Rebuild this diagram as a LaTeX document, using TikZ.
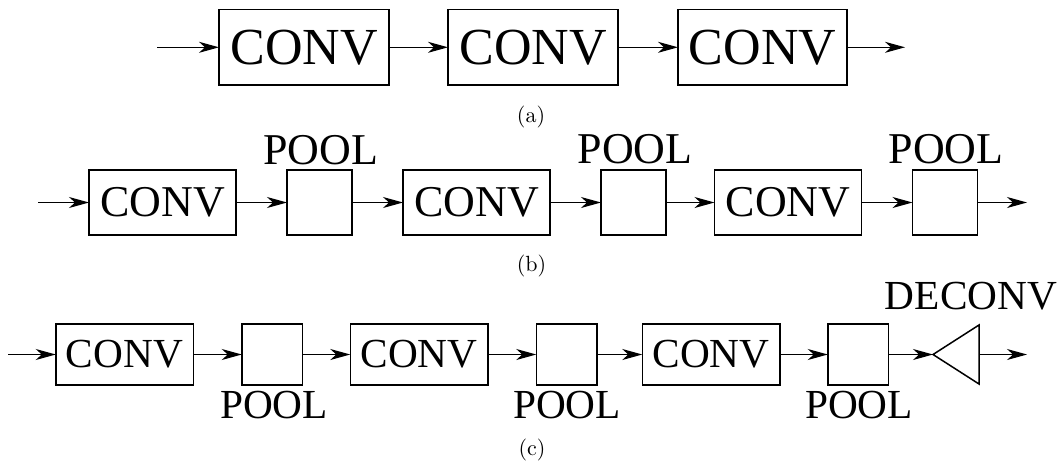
\documentclass[tikz,border=0pt]{standalone}
\usepackage{fontspec}
\usepackage{graphicx}
\newfontfamily\tms{Liberation Serif}
\usetikzlibrary{arrows.meta,calc}

\newcommand{\subcaptext}[1]{\scalebox{2.2}{\normalsize #1}}

\tikzset{
  box/.style={draw, line width=1.5pt, rectangle, inner sep=0pt, outer sep=0pt},
  flow/.style={line width=1.2pt, -{Stealth[length=20pt,width=11pt,inset=6pt]}},
  fa/.style={font=\tms\fontsize{52}{52}\selectfont},
  fb/.style={font=\tms\fontsize{44}{44}\selectfont},
  fc/.style={font=\tms\fontsize{41.3}{41.3}\selectfont},
  subcap/.style={anchor=base, inner sep=0pt},
  convA/.style={box, fa, minimum width=170pt, minimum height=75.5pt},
  convB/.style={box, fb, minimum width=147pt, minimum height=65pt},
  poolB/.style={box, minimum width=65pt, minimum height=65pt},
  convC/.style={box, fc, minimum width=137.5pt, minimum height=61pt},
  poolC/.style={box, minimum width=60.5pt, minimum height=61pt},
  lbl/.style={anchor=base, inner sep=0pt},
}

\begin{document}
\begin{tikzpicture}[x={(1pt,0)}, y={(0,-1pt)}]
\useasboundingbox (0,0) rectangle (1060,461);

% (a) plain chain of convolutions
\coordinate (a in) at (157,47.3);
\node[convA] (a1) at (304,47.3) {CONV};
\node[convA] (a2) at (533,47.3) {CONV};
\node[convA, minimum width=169pt] (a3) at (762.5,47.3) {CONV};
\coordinate (a out) at (905,47.3);
\draw[flow] (a in) -- (a1.west);
\draw[flow] (a1.east) -- (a2.west);
\draw[flow] (a2.east) -- (a3.west);
\draw[flow] (a3.east) -- (a out);
\node[subcap] (cap a) at (531,122.5) {\subcaptext{(a)}};

% (b) convolutions followed by pooling
\coordinate (b in) at (38,202.5);
\node[convB] (b1) at (162.5,202.5) {CONV};
\node[poolB] (bp1) at (319.5,202.5) {};
\node[convB] (b2) at (476.5,202.5) {CONV};
\node[poolB] (bp2) at (633.5,202.5) {};
\node[convB] (b3) at (788,202.5) {CONV};
\node[poolB] (bp3) at (945,202.5) {};
\coordinate (b out) at (1027,202.5);
\draw[flow] (b in) -- (b1.west);
\draw[flow] (b1.east) -- (bp1.west);
\draw[flow] (bp1.east) -- (b2.west);
\draw[flow] (b2.east) -- (bp2.west);
\draw[flow] (bp2.east) -- (b3.west);
\draw[flow] (b3.east) -- (bp3.west);
\draw[flow] (bp3.east) -- (b out);
\node[lbl, fb] (bl1) at (320.5,164.5) {POOL};
\node[lbl, fb] (bl2) at (635,163.5) {POOL};
\node[lbl, fb] (bl3) at (946,163.5) {POOL};
\node[subcap] (cap b) at (531.5,271) {\subcaptext{(b)}};

% (c) convolutions, pooling and a final deconvolution
\coordinate (c in) at (8,354.5);
\node[convC] (c1) at (124.5,354.5) {CONV};
\node[poolC] (cp1) at (272,354.5) {};
\node[convC] (c2) at (419,354.5) {CONV};
\node[poolC] (cp2) at (566.5,354.5) {};
\node[convC] (c3) at (711,354.5) {CONV};
\node[poolC] (cp3) at (858,354.5) {};
\coordinate (dtip) at (933,354.5);
\coordinate (dbase) at (979,354.5);
\coordinate (c out) at (1027,354.5);
\draw[line width=1.5pt, line join=miter] (dtip) -- ($(dbase)+(0,-29.5)$) -- ($(dbase)+(0,29.5)$) -- cycle;
\draw[flow] (c in) -- (c1.west);
\draw[flow] (c1.east) -- (cp1.west);
\draw[flow] (cp1.east) -- (c2.west);
\draw[flow] (c2.east) -- (cp2.west);
\draw[flow] (cp2.east) -- (c3.west);
\draw[flow] (c3.east) -- (cp3.west);
\draw[flow] (cp3.east) -- (dtip);
\draw[flow] (dbase) -- (c out);
\node[lbl, fc] (cl1) at (274,418) {POOL};
\node[lbl, fc] (cl2) at (567,418) {POOL};
\node[lbl, fc] (cl3) at (859,418) {POOL};
\node[lbl, fc] (dl) at (971,309) {DECONV};
\node[subcap] (cap c) at (532,455) {\subcaptext{(c)}};
\end{tikzpicture}
\end{document}
